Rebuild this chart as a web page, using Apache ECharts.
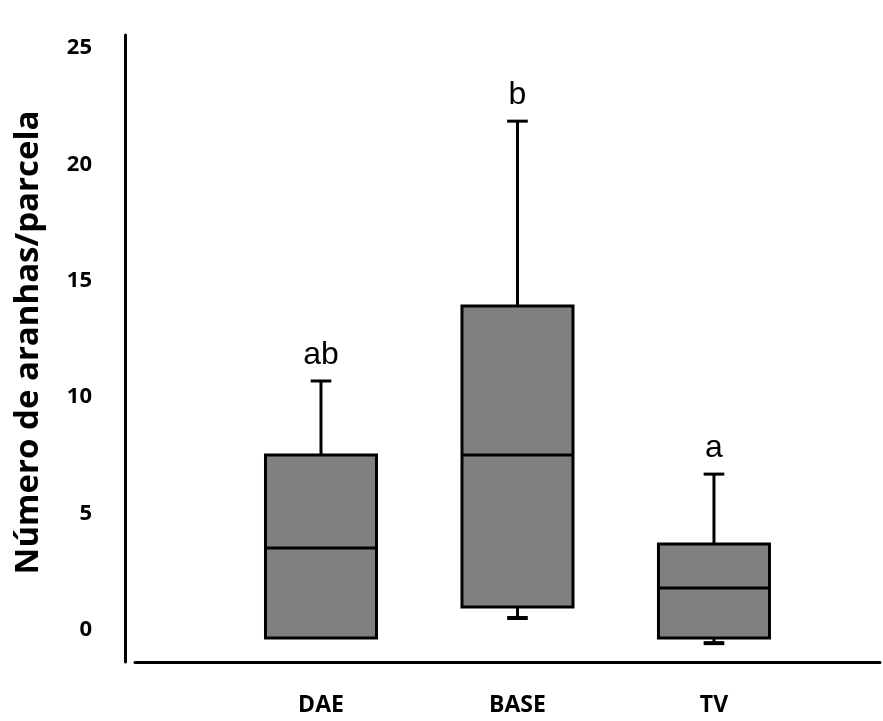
<!DOCTYPE html>
<html>
<head>
<meta charset="utf-8">
<title>Número de aranhas por parcela</title>
<script src="https://cdn.jsdelivr.net/npm/echarts@6/dist/echarts.min.js"></script>
<style>
  html, body { margin: 0; padding: 0; background: #ffffff; }
  #chart { width: 883px; height: 721px; }
</style>
</head>
<body>
<div id="chart"></div>
<script>
// Treatments and their box-plot statistics (spiders per plot)
const categories = ['DAE', 'BASE', 'TV'];
const lowerWhisker = [0, 0.86, -0.22];
const firstQuartile = [0, 1.33, 0];
const medians = [3.87, 7.86, 2.15];
const thirdQuartile = [7.86, 14.26, 4.04];
const upperWhisker = [11.04, 22.2, 7.04];
const groupLetters = ['ab', 'b', 'a'];
const yTickValues = [0, 5, 10, 15, 20, 25];

const boxData = categories.map((c, i) => [
  i, lowerWhisker[i], firstQuartile[i], medians[i], thirdQuartile[i], upperWhisker[i]
]);

const chart = echarts.init(document.getElementById('chart'), null, { renderer: 'canvas' });

function renderBox(params, api) {
  const x = api.value(0);
  const lo = api.value(1), q1 = api.value(2), med = api.value(3), q3 = api.value(4), hi = api.value(5);
  const boxW = api.size([0.565, 0])[0];
  const capW = api.size([0.105, 0])[0];
  const cx = api.coord([x, 0])[0];
  const yLo = api.coord([x, lo])[1];
  const yQ1 = api.coord([x, q1])[1];
  const yMed = api.coord([x, med])[1];
  const yQ3 = api.coord([x, q3])[1];
  const yHi = api.coord([x, hi])[1];
  const line = { stroke: '#000', lineWidth: 3 };
  const children = [];
  // upper whisker + cap
  children.push({ type: 'line', shape: { x1: cx, y1: yQ3, x2: cx, y2: yHi }, style: line });
  children.push({ type: 'line', shape: { x1: cx - capW / 2, y1: yHi, x2: cx + capW / 2, y2: yHi }, style: line });
  // lower whisker + cap
  if (lo < q1) {
    children.push({ type: 'line', shape: { x1: cx, y1: yQ1, x2: cx, y2: yLo }, style: line });
    children.push({ type: 'line', shape: { x1: cx - capW / 2, y1: yLo, x2: cx + capW / 2, y2: yLo }, style: { stroke: '#000', lineWidth: 4 } });
  }
  // box
  children.push({
    type: 'rect',
    shape: { x: cx - boxW / 2, y: yQ3, width: boxW, height: yQ1 - yQ3 },
    style: { fill: '#808080', stroke: '#000', lineWidth: 3 }
  });
  // median
  children.push({ type: 'line', shape: { x1: cx - boxW / 2, y1: yMed, x2: cx + boxW / 2, y2: yMed }, style: line });
  // significance letter
  children.push({
    type: 'text',
    style: {
      text: groupLetters[params.dataIndex],
      x: cx, y: yHi - 10,
      align: 'center', verticalAlign: 'bottom',
      font: '400 32px "Liberation Sans", Arial, sans-serif',
      fill: '#000'
    }
  });
  return { type: 'group', children };
}

const option = {
  backgroundColor: '#ffffff',
  animation: false,
  grid: { left: 135, right: 3, top: 35, bottom: 59, containLabel: false },
  xAxis: {
    type: 'value',
    min: -0.9466,
    max: 2.845,
    splitLine: { show: false },
    axisTick: { show: false },
    axisLine: { show: true, onZero: false, lineStyle: { color: '#000', width: 3 } },
    axisLabel: {
      customValues: [0, 1, 2],
      formatter: v => categories[Math.round(v)] || '',
      margin: 32,
      color: '#000',
      fontFamily: '"Open Sans", sans-serif',
      fontWeight: 'bold',
      fontSize: 23
    }
  },
  yAxis: {
    type: 'value',
    min: -1.03,
    max: 25.9,
    offset: 10,
    splitLine: { show: false },
    axisTick: { show: false },
    axisLine: { show: true, onZero: false, lineStyle: { color: '#000', width: 3 } },
    axisLabel: {
      customValues: yTickValues,
      margin: 33,
      verticalAlign: 'bottom',
      lineHeight: 16,
      color: '#000',
      fontFamily: '"Open Sans", sans-serif',
      fontWeight: 'bold',
      fontSize: 22
    },
    name: 'Número de aranhas/parcela',
    nameLocation: 'middle',
    nameGap: 80,
    nameTextStyle: {
      color: '#000',
      fontFamily: '"Open Sans", sans-serif',
      fontWeight: 'bold',
      fontSize: 33,
      padding: [0, 0, 0, 12]
    }
  },
  series: [{
    type: 'custom',
    renderItem: renderBox,
    encode: { x: 0, y: [1, 2, 3, 4, 5] },
    data: boxData,
    clip: false
  }]
};

chart.setOption(option);
</script>
</body>
</html>
